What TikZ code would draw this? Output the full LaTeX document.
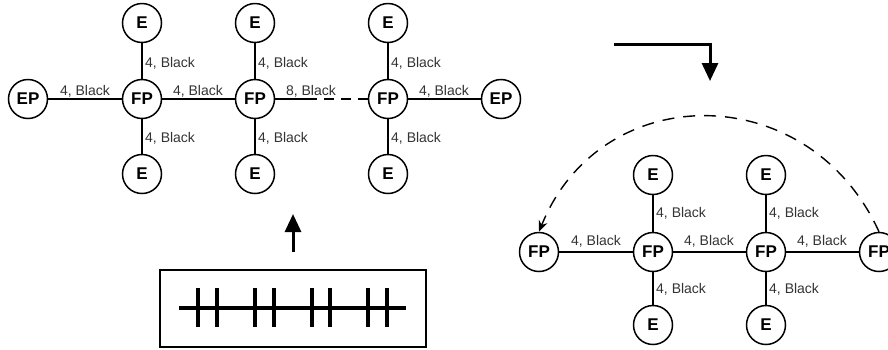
\documentclass[tikz,border=0pt]{standalone}
\usepackage{fontspec}
\setmainfont{Liberation Sans}
\usetikzlibrary{arrows.meta}
\begin{document}
\begin{tikzpicture}[x=1pt,y=-1pt,
  nd/.style={circle,draw,line width=1.5pt,minimum size=39pt,inner sep=0pt,font=\fontsize{17}{17}\selectfont\bfseries},
  ed/.style={line width=1.4pt},
  lb/.style={font=\fontsize{14}{14}\selectfont, text=black!80, inner sep=0pt, anchor=base},
  lbv/.style={font=\fontsize{14}{14}\selectfont, text=black!80, inner sep=0pt, anchor=base west},
  thick arrow/.style={line width=3pt,-{Triangle[width=16pt,length=18pt]}},
  ]
\useasboundingbox (0,0) rectangle (888,349);
\clip (0,0) rectangle (888,349);

% ---------- top-left graph ----------
\node[nd] (ep1) at (28,99) {EP};
\node[nd] (f1) at (142,99) {FP};
\node[nd] (f2) at (255,99) {FP};
\node[nd] (f3) at (388,99) {FP};
\node[nd] (ep2) at (501,99) {EP};
\node[nd] (e1t) at (142,23) {E};
\node[nd] (e1b) at (142,174) {E};
\node[nd] (e2t) at (255,23) {E};
\node[nd] (e2b) at (255,174) {E};
\node[nd] (e3t) at (388,23) {E};
\node[nd] (e3b) at (388,174) {E};
\coordinate (brk) at (307,99);

\draw[ed] (ep1) -- (f1);
\draw[ed] (f1) -- (f2);
\draw[ed] (f2) -- (brk);
\draw[ed,dash pattern=on 10pt off 7pt] (brk) -- (f3);
\draw[ed] (f3) -- (ep2);
\draw[ed] (f1) -- (e1t); \draw[ed] (f1) -- (e1b);
\draw[ed] (f2) -- (e2t); \draw[ed] (f2) -- (e2b);
\draw[ed] (f3) -- (e3t); \draw[ed] (f3) -- (e3b);

\node[lb] at (85,95) {4, Black};
\node[lb] at (198,95) {4, Black};
\node[lb] at (311,95) {8, Black};
\node[lb] at (444,95) {4, Black};
\node[lbv] at (145,67) {4, Black};
\node[lbv] at (145,142) {4, Black};
\node[lbv] at (258,67) {4, Black};
\node[lbv] at (258,142) {4, Black};
\node[lbv] at (391,67) {4, Black};
\node[lbv] at (391,142) {4, Black};

% ---------- up arrow and tape box ----------
\coordinate (ua) at (293,252);
\coordinate (ub) at (293,214);
\draw[thick arrow] (ua) -- (ub);

\node[draw,line width=1.4pt,minimum width=266pt,minimum height=77pt,inner sep=0pt] (box) at (293,308.5) {};
\coordinate (la) at (179,308);
\coordinate (lz) at (406,308);
\draw[line width=3.5pt] (la) -- (lz);
\foreach \x in {198,217,255,274,312,330,368,387}
  \draw[line width=3.5pt] (\x,288) -- (\x,327);

% ---------- L arrow ----------
\coordinate (la1) at (614,44);
\coordinate (la2) at (710,81);
\draw[thick arrow] (la1) -| (la2);

% ---------- right graph ----------
\node[nd] (r1) at (539,252) {FP};
\node[nd] (r2) at (653,252) {FP};
\node[nd] (r3) at (766,252) {FP};
\node[nd] (r4) at (879,252) {FP};
\node[nd] (q2t) at (653,175) {E};
\node[nd] (q2b) at (653,325) {E};
\node[nd] (q3t) at (766,175) {E};
\node[nd] (q3b) at (766,325) {E};

\draw[ed] (r1) -- (r2);
\draw[ed] (r2) -- (r3);
\draw[ed] (r3) -- (r4);
\draw[ed] (r2) -- (q2t); \draw[ed] (r2) -- (q2b);
\draw[ed] (r3) -- (q3t); \draw[ed] (r3) -- (q3b);

\node[lb] at (596,245) {4, Black};
\node[lb] at (709,245) {4, Black};
\node[lb] at (822,245) {4, Black};
\node[lbv] at (656,217) {4, Black};
\node[lbv] at (656,293) {4, Black};
\node[lbv] at (769,217) {4, Black};
\node[lbv] at (769,293) {4, Black};

\draw[ed,dash pattern=on 12pt off 9pt,-{Stealth[length=11pt,width=9pt]}]
  (r4.north) .. controls (809,78) and (601,78) .. (r1.north);
\end{tikzpicture}
\end{document}
